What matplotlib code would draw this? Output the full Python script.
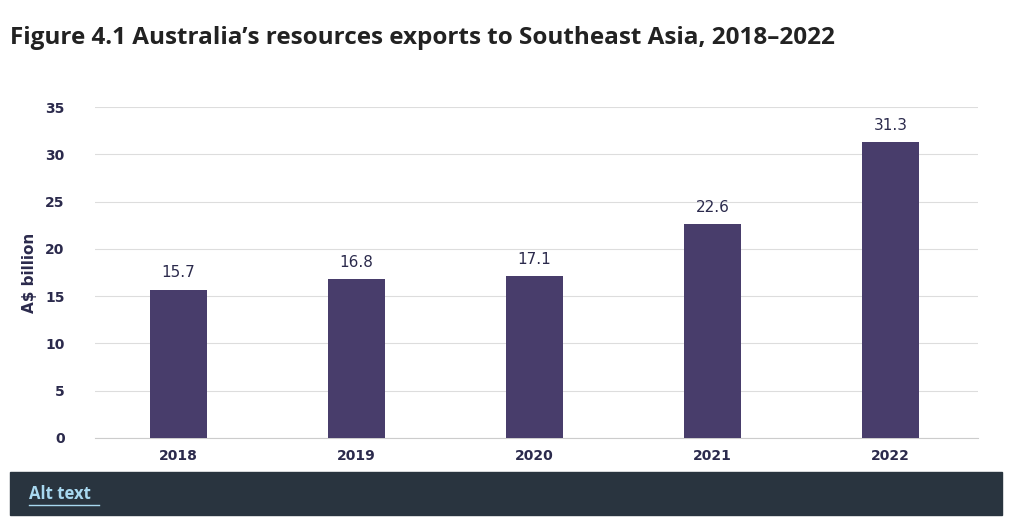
import matplotlib.pyplot as plt
from matplotlib.patches import Rectangle

years = ['2018', '2019', '2020', '2021', '2022']
exports = [15.7, 16.8, 17.1, 22.6, 31.3]
yticks = [0, 5, 10, 15, 20, 25, 30, 35]

bar_col = '#483d6b'
txt_col = '#2b2a4c'

fig = plt.figure(figsize=(10.24, 5.30), dpi=100)
fig.text(0.01, 0.928, 'Figure 4.1 Australia\u2019s resources exports to Southeast Asia, 2018\u20132022',
         fontsize=17.5, fontweight='bold', color='#222222', va='center', family='Open Sans')

ax = fig.add_axes([0.093, 0.1736, 0.862, 0.6245])
x = range(len(years))
bars = ax.bar(x, exports, width=0.32, color=bar_col, zorder=3)
for xi, v in zip(x, exports):
    ax.text(xi, v + 1.0, f'{v}', ha='center', va='bottom', fontsize=11, color=txt_col)

ax.set_xlim(-0.466, 4.49)
ax.set_ylim(0, 35)
ax.set_yticks(yticks)
ax.set_xticks(list(x))
ax.set_xticklabels(years)
ax.grid(axis='y', color='#dddddd', linewidth=0.8, zorder=0)
for s in ax.spines.values():
    s.set_visible(False)
ax.spines['bottom'].set_visible(True)
ax.spines['bottom'].set_color('#cccccc')
ax.tick_params(length=0, labelsize=10, labelcolor=txt_col, pad=8)
ax.tick_params(axis='y', pad=22)
for lab in ax.get_xticklabels() + ax.get_yticklabels():
    lab.set_fontweight('bold')
ax.set_ylabel('A$ billion', fontsize=11, fontweight='bold', color=txt_col, labelpad=6)

fig.patches.append(Rectangle((0.01, 0.028), 0.969, 0.082, transform=fig.transFigure,
                             color='#29343f', zorder=0))
fig.text(0.028, 0.068, 'Alt text', fontsize=12, fontweight='bold', color='#a8d8f0',
         va='center', family='Open Sans')
fig.add_artist(plt.Line2D([0.028, 0.097], [0.047, 0.047], color='#a8d8f0', linewidth=1))

fig.savefig('out.png', dpi=100)
